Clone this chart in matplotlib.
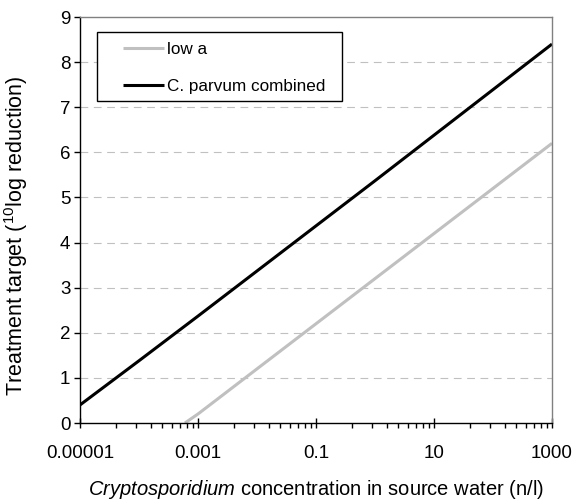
import numpy as np
import matplotlib
matplotlib.use("Agg")
import matplotlib.pyplot as plt
from matplotlib.patches import Rectangle

plt.rcParams["font.family"] = ["Liberation Sans", "DejaVu Sans"]
plt.rcParams["mathtext.fontset"] = "custom"
plt.rcParams["mathtext.rm"] = "Liberation Sans"
plt.rcParams["mathtext.it"] = "Liberation Sans:italic"

# data
conc_low = [6e-4, 1e-3, 1e-2, 1e-1, 1, 10, 100, 1000]
target_low = [0.0, 0.2, 1.2, 2.2, 3.2, 4.2, 5.2, 6.2]
conc_comb = [1e-5, 1e-4, 1e-3, 1e-2, 1e-1, 1, 10, 100, 1000]
target_comb = [0.4, 1.38, 2.37, 3.37, 4.37, 5.37, 6.38, 7.39, 8.4]
labels = ["low a", "C. parvum combined"]
xticks = [1e-5, 1e-3, 1e-1, 10, 1000]
xticklabels = ["0.00001", "0.001", "0.1", "10", "1000"]

fig = plt.figure(figsize=(5.76, 5.01), dpi=100)
ax = fig.add_axes([80 / 576, 1 - 423 / 501, 472 / 576, 406 / 501])

ax.set_xscale("log")
ax.set_xlim(1e-5, 1000)
ax.set_ylim(0, 9)

# grid
for y in range(1, 9):
    ax.axhline(y, color="#c0c0c0", lw=0.8, dashes=(7, 5), zorder=0)

l1, = ax.plot(conc_low, target_low, color="#c0c0c0", lw=2.2, solid_capstyle="butt")
l2, = ax.plot(conc_comb, target_comb, color="black", lw=2.2, solid_capstyle="butt")

# ticks
ax.set_xticks(xticks)
ax.set_xticklabels(xticklabels)
minor = [10.0 ** e * k * k for e in (-5, -3, -1, 1) for k in range(2, 10)]
ax.set_xticks(minor, minor=True)
ax.xaxis.set_minor_formatter(matplotlib.ticker.NullFormatter())
ax.set_yticks(range(0, 10))
ax.tick_params(axis="x", which="major", direction="inout", length=7, width=1, labelsize=13.5, pad=12)
ax.tick_params(axis="x", which="minor", direction="out", length=3.5, width=1)
ax.tick_params(axis="y", direction="out", length=4, width=1, labelsize=13.5, pad=3)

for s in ["top", "right"]:
    ax.spines[s].set_color("#808080")
for s in ["left", "bottom"]:
    ax.spines[s].set_color("black")
for s in ax.spines.values():
    s.set_linewidth(1)

ax.set_xlabel(r"$\mathit{Cryptosporidium}$ concentration in source water (n/l)", fontsize=14.5, labelpad=12)
ax.set_ylabel(r"Treatment target ($^{10}$log reduction)", fontsize=15.5)
ax.yaxis.set_label_coords(-50 / 472, 0.46)

# legend box
ax.add_patch(Rectangle((17 / 472, 322 / 406), 245 / 472, 69 / 406, transform=ax.transAxes,
                       facecolor="white", edgecolor="black", lw=1, zorder=3))
leg = ax.legend([l1, l2], labels, loc="upper left", bbox_to_anchor=(43 / 472, 381 / 406),
                frameon=False, fontsize=12.3, handlelength=2.4, handletextpad=0.2,
                borderpad=0, borderaxespad=0, labelspacing=1.3)
leg.set_zorder(4)

fig.savefig("out.png", dpi=100)
